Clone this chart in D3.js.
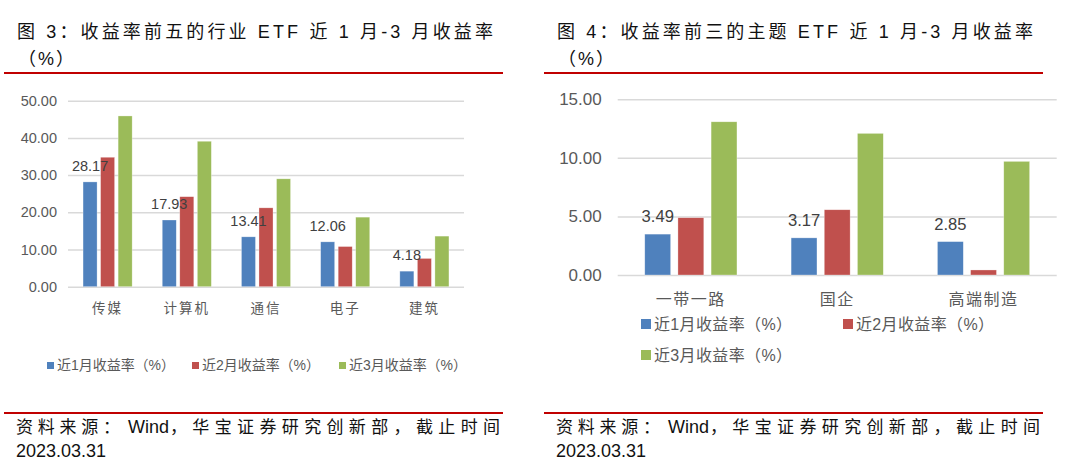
<!DOCTYPE html>
<html>
<head>
<meta charset="utf-8">
<script src="https://cdn.jsdelivr.net/npm/d3@7"></script>
<style>
  body { margin: 0; background: #fff; }
  text { font-family: 'Liberation Sans', Arial, 'Noto Sans CJK SC', sans-serif; }
</style>
</head>
<body>
<div id="chart"></div>
<script>
// Data
const seriesNames = ['近1月收益率（%）', '近2月收益率（%）', '近3月收益率（%）'];
const industryCats = ['传媒', '计算机', '通信', '电子', '建筑'];
const industry1m = [28.17, 17.93, 13.41, 12.06, 4.18];
const industry2m = [34.8, 24.2, 21.2, 10.8, 7.6];
const industry3m = [45.9, 39.1, 29.0, 18.7, 13.6];
const industryTicks = [0, 10, 20, 30, 40, 50];

const themeCats = ['一带一路', '国企', '高端制造'];
const theme1m = [3.49, 3.17, 2.85];
const theme2m = [4.89, 5.57, 0.43];
const theme3m = [13.08, 12.09, 9.7];
const themeTicks = [0, 5, 10, 15];

// Constant
const width = 1080;
const height = 471;
const colors = ['#4F81BD', '#C0504D', '#9BBB59'];
const redLine = '#C00000';
const gridColor = '#D9D9D9';
const axisTextColor = '#595959';
const labelColor = '#404040';

const svg = d3.select('#chart')
    .append('svg')
        .attr('width', width)
        .attr('height', height);

const drawPanel = (p) => {
    const g = svg.append('g')
        .attr('transform', `translate(${p.left},0)`);

    // title
    g.append('text')
        .attr('x', 13)
        .attr('y', 38)
        .attr('textLength', p.titleLen)
        .attr('lengthAdjust', 'spacing')
        .style('font-size', '18px')
        .attr('fill', '#111')
        .text(p.title);
    g.append('text')
        .attr('x', 14)
        .attr('y', 65)
        .style('font-size', '18px')
        .style('letter-spacing', '2px')
        .attr('fill', '#111')
        .text('（%）');

    g.append('line')
        .attr('x1', 0).attr('x2', 499)
        .attr('y1', 73).attr('y2', 73)
        .attr('stroke', redLine).attr('stroke-width', 2);
    g.append('line')
        .attr('x1', 0).attr('x2', 499)
        .attr('y1', 413).attr('y2', 413)
        .attr('stroke', redLine).attr('stroke-width', 2);

    // footer
    const foot = g.append('g')
        .style('font-size', '17px')
        .attr('fill', '#111');
    foot.append('text')
        .attr('x', 12).attr('y', 433)
        .attr('textLength', 104)
        .attr('lengthAdjust', 'spacing')
        .text('资料来源：');
    foot.append('text')
        .attr('x', 124).attr('y', 433)
        .style('font-size', '18px')
        .text('Wind');
    foot.append('text')
        .attr('x', 166).attr('y', 433)
        .attr('textLength', 330)
        .attr('lengthAdjust', 'spacing')
        .text('，华宝证券研究创新部，截止时间');
    foot.append('text')
        .attr('x', 12).attr('y', 457)
        .style('font-size', '18px')
        .text('2023.03.31');

    // scales
    const x = d3.scaleBand()
        .domain(p.cats)
        .range([p.x0, p.x1])
        .paddingInner(p.pad)
        .paddingOuter(p.pad / 2);
    const xSub = d3.scaleBand()
        .domain([0, 1, 2])
        .range([0, x.bandwidth()])
        .paddingInner(p.subPad);
    const y = d3.scaleLinear()
        .domain([0, d3.max(p.ticks)])
        .range([p.y0, p.y1]);

    // y axis + grid
    const yAxis = g.append('g')
        .attr('transform', `translate(${p.x0},0)`)
        .call(d3.axisLeft(y)
            .tickValues(p.ticks)
            .tickFormat(d3.format('.2f'))
            .tickSize(-(p.x1 - p.x0))
            .tickPadding(p.tickPad));
    yAxis.select('.domain').remove();
    yAxis.selectAll('.tick line')
        .attr('stroke', gridColor)
        .attr('stroke-width', 1.5);
    yAxis.selectAll('.tick text')
        .style('font-size', p.tickFont)
        .style('font-family', "'Liberation Sans', Arial, sans-serif")
        .attr('fill', axisTextColor);

    // bars
    const rows = p.cats.map((c, i) => ({cat: c, vals: p.series.map(s => s[i])}));
    const groups = g.selectAll('.grp')
        .data(rows)
        .enter()
        .append('g')
            .attr('class', 'grp')
            .attr('transform', d => `translate(${x(d.cat)},0)`);

    groups.selectAll('rect')
        .data(d => d.vals.map((v, k) => ({k: k, v: v})))
        .enter()
        .append('rect')
            .attr('x', d => xSub(d.k))
            .attr('y', d => y(d.v))
            .attr('width', xSub.bandwidth())
            .attr('height', d => y(0) - y(d.v))
            .attr('fill', d => colors[d.k])
            .attr('stroke', '#fff')
            .attr('stroke-opacity', 0.5)
            .attr('stroke-width', 0.6);

    // data labels on first series
    groups.append('text')
        .attr('x', d => xSub(0) + xSub.bandwidth() / 2)
        .attr('y', d => y(d.vals[0]) - p.labelGap)
        .attr('text-anchor', 'middle')
        .style('font-size', p.labelFont)
        .attr('fill', labelColor)
        .text(d => d3.format('.2f')(d.vals[0]));

    // category labels
    g.selectAll('.cat')
        .data(p.cats)
        .enter()
        .append('text')
            .attr('class', 'cat')
            .attr('x', d => x(d) + x.bandwidth() / 2)
            .attr('y', p.catY)
            .attr('text-anchor', 'middle')
            .style('font-size', p.catFont)
            .style('letter-spacing', p.catSpacing)
            .attr('fill', axisTextColor)
            .text(d => d);

    // legend
    const leg = g.selectAll('.leg')
        .data(seriesNames)
        .enter()
        .append('g')
            .attr('class', 'leg')
            .attr('transform', (d, i) => `translate(${p.legPos[i][0]},${p.legPos[i][1]})`);
    leg.append('rect')
        .attr('x', 0)
        .attr('y', -p.legBox - 1)
        .attr('width', p.legBox)
        .attr('height', p.legBox)
        .attr('fill', (d, i) => colors[i]);
    leg.append('text')
        .attr('x', p.legBox + 3)
        .attr('y', 0)
        .attr('textLength', p.legLen)
        .attr('lengthAdjust', 'spacing')
        .style('font-size', p.legFont)
        .attr('fill', axisTextColor)
        .text(d => d);
};

drawPanel({
    left: 4,
    title: '图 3：收益率前五的行业 ETF 近 1 月-3 月收益率',
    titleLen: 476,
    cats: industryCats,
    series: [industry1m, industry2m, industry3m],
    ticks: industryTicks,
    x0: 64, x1: 460, y0: 286.7, y1: 100.7,
    pad: 0.38, subPad: 0.2,
    tickPad: 11, tickFont: '14.5px',
    labelFont: '14.5px', labelGap: 11,
    catY: 313, catFont: '13.5px', catSpacing: '2px',
    legPos: [[43, 370], [188, 370], [335, 370]],
    legBox: 7, legLen: 118, legFont: '14px'
});

drawPanel({
    left: 544,
    title: '图 4：收益率前三的主题 ETF 近 1 月-3 月收益率',
    titleLen: 476,
    cats: themeCats,
    series: [theme1m, theme2m, theme3m],
    ticks: themeTicks,
    x0: 73.7, x1: 512.7, y0: 275, y1: 99.3,
    pad: 0.37, subPad: 0.22,
    tickPad: 16, tickFont: '17px',
    labelFont: '16.6px', labelGap: 12,
    catY: 305, catFont: '16px', catSpacing: '1.5px',
    legPos: [[97, 330], [299, 330], [97, 361]],
    legBox: 10, legLen: 138, legFont: '16px'
});
</script>
</body>
</html>
